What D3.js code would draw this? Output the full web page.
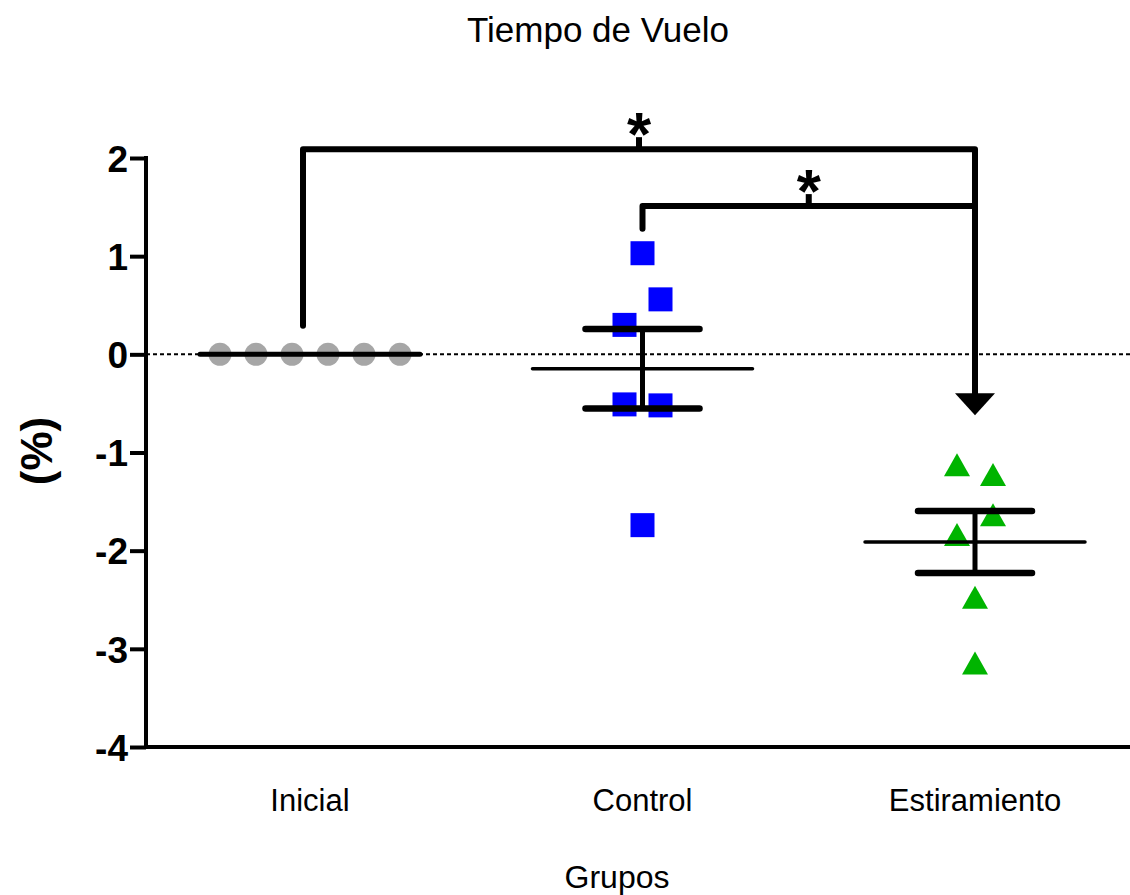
<!DOCTYPE html>
<html>
<head>
<meta charset="utf-8">
<script src="https://cdn.jsdelivr.net/npm/d3@7"></script>
<style>
  body { margin: 0; background: #fff; }
  text { font-family: "Liberation Sans", Arial, sans-serif; }
</style>
</head>
<body>
<script>
// chart data
const groups = ['Inicial', 'Control', 'Estiramiento'];
const inicial = [0, 0, 0, 0, 0, 0];
const control = [1.03, 0.30, 0.56, -0.51, -0.52, -1.74];
const estiramiento = [-1.13, -1.23, -1.84, -1.64, -2.48, -3.15];
const yTicks = [2, 1, 0, -1, -2, -3, -4];
// significance brackets: [from group, to group, bracket level, left leg end]
const brackets = [
    ['Inicial', 'Estiramiento', 2.09, 0.29],
    ['Control', 'Estiramiento', 1.51, 1.28],
];
const arrowTip = -0.62;

const W = 1130, H = 895;
const svg = d3.select('body').append('svg').attr('width', W).attr('height', H);

const x = d3.scalePoint().domain(groups).range([310, 975]);
const y = d3.scaleLinear().domain([-4, 2]).range([747, 158]);
const axisX0 = 146;

const series = [
    { key: 'Inicial', values: inicial, color: '#a6a6a6', shape: 'circle' },
    { key: 'Control', values: control, color: '#0000ff', shape: 'square' },
    { key: 'Estiramiento', values: estiramiento, color: '#00b400', shape: 'triangle' },
];

// spread points that sit on nearly the same level (simple beeswarm rows)
function spread(values) {
    const idx = values.map((v, i) => i).sort((a, b) => values[b] - values[a]);
    const rows = [];
    idx.forEach((i) => {
        const last = rows[rows.length - 1];
        if (last && Math.abs(y(values[last[last.length - 1]]) - y(values[i])) < 30) last.push(i);
        else rows.push([i]);
    });
    const off = new Array(values.length).fill(0);
    rows.forEach((r) => {
        r.sort((a, b) => a - b);
        r.forEach((i, k) => (off[i] = (k - (r.length - 1) / 2) * 36));
    });
    return off;
}

// zero reference line
svg.append('line')
    .attr('x1', axisX0).attr('x2', W)
    .attr('y1', y(0)).attr('y2', y(0))
    .attr('stroke', '#000').attr('stroke-width', 2).attr('stroke-dasharray', '4,3');

// points
series.forEach((s) => {
    const off = spread(s.values);
    const g = svg.append('g');
    const pts = s.values.map((v, i) => ({ cx: x(s.key) + off[i], cy: y(v) }));
    if (s.shape === 'circle') {
        g.selectAll('circle').data(pts).join('circle')
            .attr('cx', (d) => d.cx).attr('cy', (d) => d.cy).attr('r', 11.5).attr('fill', s.color);
    } else if (s.shape === 'square') {
        g.selectAll('rect').data(pts).join('rect')
            .attr('x', (d) => d.cx - 12).attr('y', (d) => d.cy - 12)
            .attr('width', 24).attr('height', 24).attr('fill', s.color);
    } else {
        g.selectAll('path').data(pts).join('path')
            .attr('d', (d) => `M${d.cx},${d.cy - 12}L${d.cx + 13},${d.cy + 11}L${d.cx - 13},${d.cy + 11}Z`)
            .attr('fill', s.color);
    }
});

// mean and SEM
series.forEach((s) => {
    const m = d3.mean(s.values);
    const sem = d3.deviation(s.values) / Math.sqrt(s.values.length);
    const cx = x(s.key);
    const g = svg.append('g').attr('stroke', '#000').attr('stroke-linecap', 'round');
    g.append('line').attr('x1', cx - 110).attr('x2', cx + 110).attr('y1', y(m)).attr('y2', y(m))
        .attr('stroke-width', sem > 0 ? 3.5 : 5);
    if (sem > 0) {
        g.append('line').attr('x1', cx).attr('x2', cx).attr('y1', y(m + sem)).attr('y2', y(m - sem)).attr('stroke-width', 5);
        [m + sem, m - sem].forEach((v) => {
            g.append('line').attr('x1', cx - 57).attr('x2', cx + 57).attr('y1', y(v)).attr('y2', y(v)).attr('stroke-width', 6.5);
        });
    }
});

// axes
const yAxis = svg.append('g').attr('transform', `translate(${axisX0},0)`)
    .call(d3.axisLeft(y).tickValues(yTicks).tickSize(16).tickPadding(2).tickFormat((d) => String(d)));
yAxis.select('.domain').remove();
yAxis.selectAll('.tick line').attr('stroke', '#000').attr('stroke-width', 4);
yAxis.selectAll('.tick text').attr('font-size', 37).attr('font-weight', 'bold').attr('fill', '#000')
    .attr('font-family', '"Liberation Sans", Arial, sans-serif').attr('dy', '0.36em');
svg.append('path')
    .attr('d', `M${axisX0},${y(2) - 2}V${y(-4)}H${W}`)
    .attr('fill', 'none').attr('stroke', '#000').attr('stroke-width', 4);

svg.selectAll('.xlab').data(groups).join('text')
    .attr('class', 'xlab')
    .attr('x', (d) => x(d)).attr('y', 811)
    .attr('text-anchor', 'middle').attr('font-size', 31).text((d) => d);

// significance brackets
const bg = svg.append('g').attr('fill', 'none').attr('stroke', '#000').attr('stroke-width', 6)
    .attr('stroke-linejoin', 'round').attr('stroke-linecap', 'round');
brackets.forEach(([a, b, lvl, leg], i) => {
    const x1 = x(a) - (i === 0 ? 7 : 0), x2 = x(b);
    bg.append('path').attr('d', `M${x1},${y(leg)}V${y(lvl)}H${x2}`);
    const mid = (x1 + x2) / 2;
    bg.append('path').attr('d', `M${mid},${y(lvl)}V${y(lvl) - 12}`).attr('stroke-linecap', 'butt');
    svg.append('text').attr('x', mid).attr('y', y(lvl) + 6)
        .attr('text-anchor', 'middle').attr('font-size', 62).attr('font-weight', 'bold').text('*');
});
bg.append('path').attr('d', `M${x('Estiramiento')},${y(brackets[0][2])}V${y(arrowTip) - 20}`).attr('stroke-linecap', 'butt');
svg.append('path')
    .attr('d', `M${x('Estiramiento') - 20},${y(arrowTip) - 22}H${x('Estiramiento') + 20}L${x('Estiramiento')},${y(arrowTip)}Z`)
    .attr('fill', '#000');

// titles
svg.append('text').attr('x', 598).attr('y', 42).attr('text-anchor', 'middle').attr('font-size', 35).text('Tiempo de Vuelo');
svg.append('text').attr('x', 617).attr('y', 888).attr('text-anchor', 'middle').attr('font-size', 32).text('Grupos');
svg.append('text').attr('transform', 'translate(52,451) rotate(-90)')
    .attr('text-anchor', 'middle').attr('font-size', 44).attr('font-weight', 'bold').text('(%)');
</script>
</body>
</html>
